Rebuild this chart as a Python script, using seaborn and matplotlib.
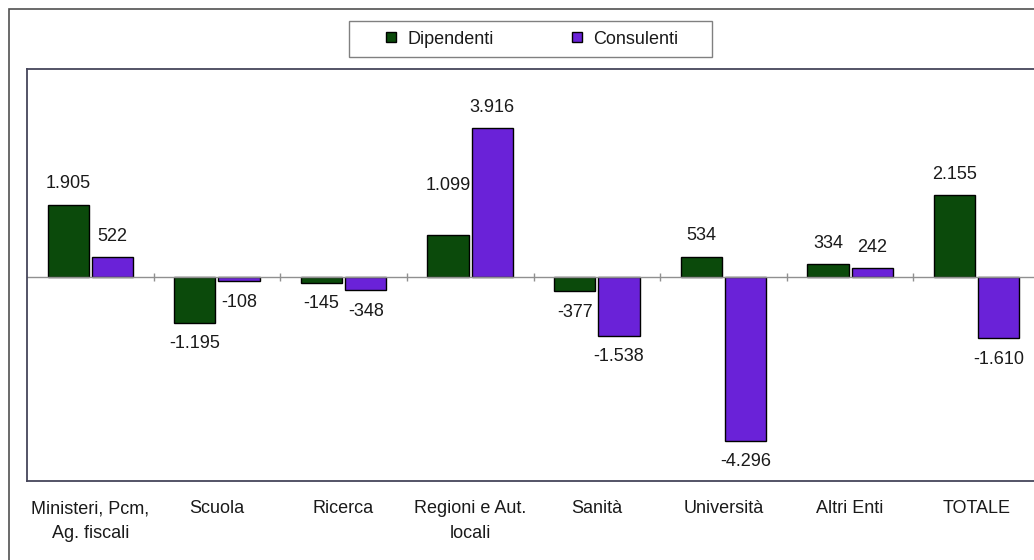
import pandas as pd
import seaborn as sns
import matplotlib.pyplot as plt
from matplotlib.lines import Line2D
from matplotlib.patches import Rectangle

categorie = ["Ministeri, Pcm,\nAg. fiscali", "Scuola", "Ricerca", "Regioni e Aut.\nlocali",
             "Sanità", "Università", "Altri Enti", "TOTALE"]
dipendenti = [1905, -1195, -145, 1099, -377, 534, 334, 2155]
consulenti = [522, -108, -348, 3916, -1538, -4296, 242, -1610]
serie = ["Dipendenti", "Consulenti"]
colori = ["#0b4a0b", "#6a22d8"]

df = pd.DataFrame({
    "categoria": categorie * 2,
    "serie": [serie[0]] * len(categorie) + [serie[1]] * len(categorie),
    "valore": dipendenti + consulenti,
})

sns.set_style("white")
plt.rcParams["font.family"] = ["Liberation Sans", "DejaVu Sans"]

fig = plt.figure(figsize=(10.34, 5.6), dpi=100)
ax = fig.add_axes([27 / 1034, 79 / 560, 1013 / 1034, 412 / 560])

sns.barplot(data=df, x="categoria", y="valore", hue="serie", order=categorie,
            hue_order=serie, palette=colori, saturation=1, width=0.7, gap=0.07,
            edgecolor="black", linewidth=1, legend=False, ax=ax)

ax.set_ylim(-5360, 5470)
ax.set_xlim(-0.5, len(categorie) - 0.5)
ax.set_xlabel("")
ax.set_ylabel("")
ax.set_yticks([])
ax.tick_params(axis="x", length=0, pad=14, labelsize=13, labelcolor="#1a1a1a")
for lab in ax.get_xticklabels():
    lab.set_linespacing(1.55)

for s in ax.spines.values():
    s.set_color("#45455a")
    s.set_linewidth(1.3)

# linea dello zero con tacche tra le categorie
ax.axhline(0, color="#909090", lw=1, zorder=1)
ax.vlines([i + 0.5 for i in range(len(categorie) - 1)], -110, 110, color="#909090", lw=1)

# etichette dei valori
for cont, vals in zip(ax.containers, [dipendenti, consulenti]):
    for bar, v in zip(cont, vals):
        off = 15 if v >= 0 else -15
        if v == 1099:
            off = 36  # come nell'originale, spostata sopra
        ax.annotate(f"{v:,}".replace(",", "."),
                    (bar.get_x() + bar.get_width() / 2, v),
                    xytext=(0, off), textcoords="offset points",
                    ha="center", va="center", fontsize=13, color="#1a1a1a")

# legenda
handles = [Line2D([], [], marker="s", ls="", markersize=7, markerfacecolor=c,
                  markeredgecolor="black") for c in colori]
fig.legend(handles, serie, loc="center", bbox_to_anchor=(531 / 1034, 1 - 39 / 560),
           ncol=2, frameon=False, fontsize=13, handlelength=0.8, handletextpad=0.5,
           columnspacing=4.2, labelcolor="#1a1a1a")
fig.patches.append(Rectangle((349 / 1034, 1 - 57 / 560), 363 / 1034, 36 / 560,
                             transform=fig.transFigure, fill=False,
                             edgecolor="#808080", lw=1))

# cornice esterna
fig.patches.append(Rectangle((9 / 1034, -0.1), 1.2, 1 - 9 / 560 + 0.1,
                             transform=fig.transFigure, fill=False,
                             edgecolor="#505050", lw=1.2))

fig.savefig("out.png", dpi=100)
